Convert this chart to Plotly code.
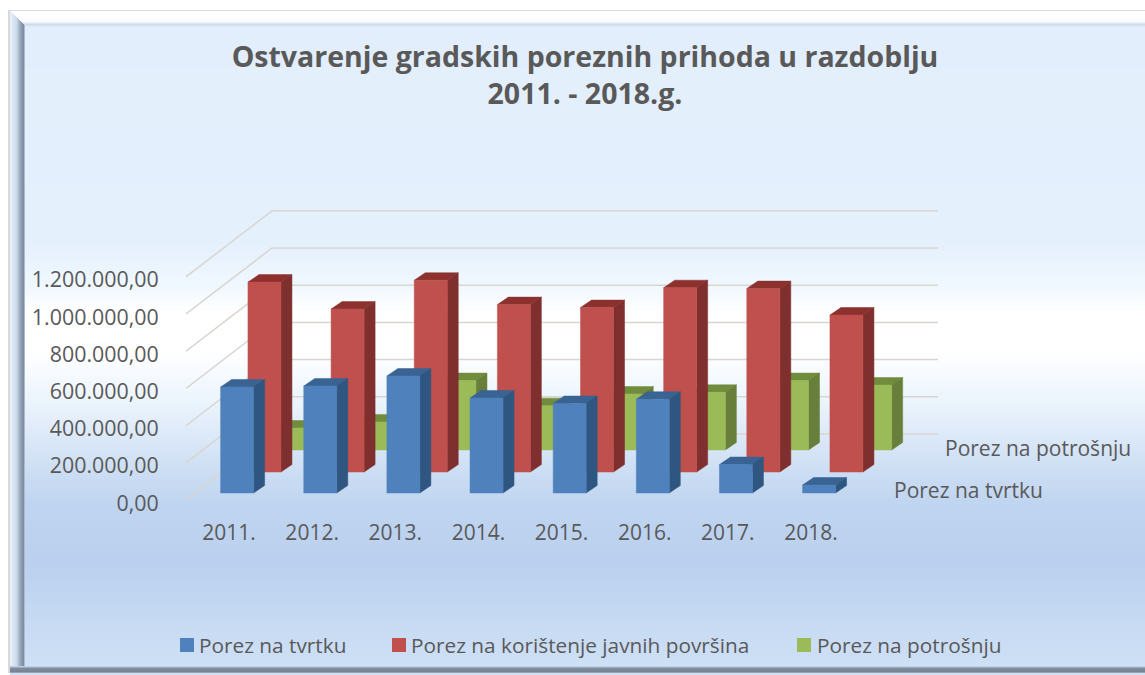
import plotly.graph_objects as go

# ---- data ----
years = ["2011.", "2012.", "2013.", "2014.", "2015.", "2016.", "2017.", "2018."]
porez_tvrtka = [570000, 575000, 629000, 511000, 481000, 504000, 153000, 43000]
porez_povrsine = [1021000, 876000, 1031000, 900000, 884000, 991000, 986000, 844000]
porez_potrosnja = [118000, 151000, 373000, 238000, 301000, 310000, 373000, 349000]
value_ticks = [0, 200000, 400000, 600000, 800000, 1000000, 1200000]
value_labels = ["0,00", "200.000,00", "400.000,00", "600.000,00", "800.000,00", "1.000.000,00", "1.200.000,00"]
series_names = ["Porez na tvrtku", "Porez na korištenje javnih površina", "Porez na potrošnju"]

W, H = 1145, 675
FONT = "Open Sans"
TXT = "#595959"
SX = 83.14          # px per category
SY = 186 / 1e6      # px per value unit
X_L, X_R, Y_B, Y_T = 186, 938, 500, 205
x_range = [(X_L - 229) / SX, (X_R - 229) / SX]
y_range = [0, (Y_B - Y_T) / SY]
DEPTH_X = 86 / SX
DEPTH_Y = 66 / SY
WALL_X = x_range[0]
SLOT = 25.5 / SX
BAR_W = 33 / SX
BAR_DX = 11 / SX
BAR_DY = 7.5 / SY


def lerp(stops, p):
    for (p0, c0), (p1, c1) in zip(stops, stops[1:]):
        if p <= p1:
            t = (p - p0) / (p1 - p0) if p1 > p0 else 0
            return tuple(round(a + (b - a) * t) for a, b in zip(c0, c1))
    return stops[-1][1]


def rgb(c):
    return f"rgb({c[0]},{c[1]},{c[2]})"


def rect(x0, y0, x1, y1, color):
    return dict(type="rect", xref="paper", yref="paper", layer="below",
                x0=x0 / W, x1=x1 / W, y0=1 - y0 / H, y1=1 - y1 / H,
                fillcolor=color, line=dict(width=0))


shapes = [rect(8, 10, W, 673, "#d9d9d9")]
bg = [(10, (227, 238, 252)), (240, (229, 240, 253)), (285, (240, 248, 255)), (310, (255, 255, 255)),
      (350, (255, 255, 255)), (400, (235, 244, 253)), (450, (213, 228, 246)), (500, (192, 213, 240)),
      (560, (186, 208, 238)), (620, (198, 218, 242)), (672, (207, 225, 246))]
for y in range(11, 672, 3):
    shapes.append(rect(10, y, W, y + 4, rgb(lerp(bg, y))))
# bevel: top, left, bottom
top_bevel = [(11, (255, 255, 255)), (21, (250, 252, 255)), (24, (206, 220, 236)), (27, (227, 238, 252))]
for y in range(11, 27):
    shapes.append(rect(10 + (y - 11), y, W, y + 1, rgb(lerp(top_bevel, y))))
left_bevel = [(10, (232, 240, 250)), (16, (205, 218, 234)), (20, (150, 165, 184)), (23, (125, 140, 160)), (25, (222, 234, 249))]
for x in range(10, 25):
    shapes.append(rect(x, 11 + (x - 10), x + 1, 672, rgb(lerp(left_bevel, x))))
bottom_bevel = [(666, (190, 205, 224)), (668, (125, 140, 158)), (671, (120, 130, 145)), (673, (190, 195, 205))]
for y in range(666, 673):
    shapes.append(rect(10, y, W, y + 1, rgb(lerp(bottom_bevel, y))))

# legend keys and entries
legend_x = [(180, 197), (392, 409), (797, 815)]
palette = [
    dict(front="#4f81bd", side="#2f5680", top="#386393"),
    dict(front="#c0504d", side="#7f2f2d", top="#8c312e"),
    dict(front="#9bbb59", side="#677f3a", top="#708c3c"),
]
annotations = []
for (kx, tx), name, pal in zip(legend_x, series_names, palette):
    shapes.append(rect(kx, 638, kx + 14, 652, pal["front"]))
    annotations.append(dict(text=name, xref="paper", yref="paper", x=tx / W, y=1 - 645 / H,
                            xanchor="left", yanchor="middle", showarrow=False,
                            font=dict(family=FONT, size=20.8, color=TXT)))
# depth-axis labels
for text, px, py in [("Porez na potrošnju", 943, 448), ("Porez na tvrtku", 892, 490)]:
    annotations.append(dict(text=text, xref="paper", yref="paper", x=px / W, y=1 - py / H,
                            xanchor="left", yanchor="middle", showarrow=False,
                            font=dict(family=FONT, size=21, color=TXT)))

fig = go.Figure()

# walls' grid lines
gx, gy = [], []
for v in value_ticks:
    gx += [WALL_X, WALL_X + DEPTH_X, x_range[1], None]
    gy += [v, v + DEPTH_Y, v + DEPTH_Y, None]
fig.add_trace(go.Scatter(x=gx, y=gy, mode="lines", line=dict(color="#d9d5d0", width=1.5),
                         showlegend=False, hoverinfo="skip"))


def faces(values, depth):
    front_x, front_y, side_x, side_y, top_x, top_y = [], [], [], [], [], []
    off_y = depth * DEPTH_Y
    for i, v in enumerate(values):
        l = WALL_X + i + SLOT + depth * DEPTH_X
        r = l + BAR_W
        b, t = off_y, off_y + v
        front_x += [l, r, r, l, l, None]
        front_y += [b, b, t, t, b, None]
        side_x += [r, r + BAR_DX, r + BAR_DX, r, r, None]
        side_y += [b, b + BAR_DY, t + BAR_DY, t, b, None]
        top_x += [l, r, r + BAR_DX, l + BAR_DX, l, None]
        top_y += [t, t, t + BAR_DY, t + BAR_DY, t, None]
    return (front_x, front_y), (side_x, side_y), (top_x, top_y)


series = [
    (porez_potrosnja, 0.758, palette[2], series_names[2]),
    (porez_povrsine, 0.424, palette[1], series_names[1]),
    (porez_tvrtka, 0.106, palette[0], series_names[0]),
]
for values, depth, pal, name in series:
    front, side, top = faces(values, depth)
    for (xs, ys), col in ((top, pal["top"]), (side, pal["side"]), (front, pal["front"])):
        fig.add_trace(go.Scatter(x=xs, y=ys, mode="lines", fill="toself", fillcolor=col,
                                 line=dict(color=col, width=0.5), name=name,
                                 showlegend=False, hoverinfo="skip"))

fig.update_layout(
    width=W, height=H,
    margin=dict(l=0, r=0, t=0, b=0, autoexpand=False),
    paper_bgcolor="white", plot_bgcolor="rgba(0,0,0,0)",
    showlegend=False,
    shapes=shapes,
    annotations=annotations,
    title=dict(text="Ostvarenje gradskih poreznih prihoda u razdoblju<br>2011. - 2018.g.",
               x=585 / W, xanchor="center", xref="paper", y=1 - 67 / H, yanchor="top",
               font=dict(family=FONT, size=28.5, color=TXT, weight="bold")),
    xaxis=dict(domain=[X_L / W, X_R / W], range=x_range, showgrid=False, zeroline=False, showline=False,
               tickmode="array", tickvals=list(range(len(years))), ticktext=years,
               ticks="outside", ticklen=14, tickcolor="rgba(0,0,0,0)",
               tickfont=dict(family=FONT, size=21, color=TXT)),
    yaxis=dict(domain=[1 - Y_B / H, 1 - Y_T / H], range=y_range, showgrid=False, zeroline=False, showline=False,
               tickmode="array", tickvals=value_ticks, ticktext=value_labels,
               ticks="outside", ticklen=22, tickcolor="rgba(0,0,0,0)", ticklabelshift=3,
               tickfont=dict(family=FONT, size=21.4, color=TXT)),
)

fig.write_html("out.html", config=dict(displayModeBar=False),
               post_script="document.body.style.margin='0';")
